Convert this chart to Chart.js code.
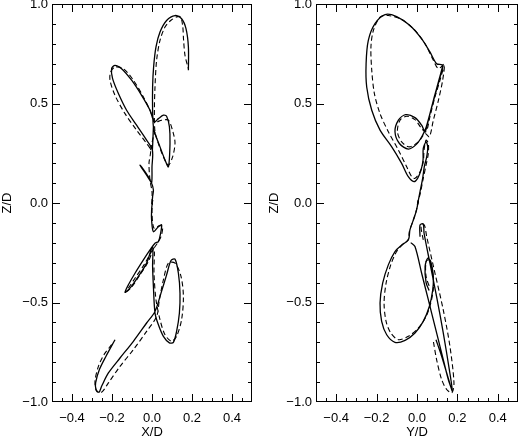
<!DOCTYPE html>
<html>
<head>
<meta charset="utf-8">
<script src="https://cdn.jsdelivr.net/npm/chart.js@4.4.1/dist/chart.umd.min.js"></script>
<style>
  body { margin: 0; background: #fff; }
  #wrap { position: relative; width: 520px; height: 440px; }
  canvas { position: absolute; top: 0; }
</style>
</head>
<body>
<div id="wrap">
  <canvas id="xzChart" width="260" height="440" style="left:0"></canvas>
  <canvas id="yzChart" width="260" height="440" style="left:260px"></canvas>
</div>
<script>
// tick labels
const hTicks = [-0.4, -0.2, 0.0, 0.2, 0.4];
const zTicks = [-1.0, -0.5, 0.0, 0.5, 1.0];

// X/D - Z/D panel, branch going up from the origin (null = pen lifted)
const xzSolidUpX = [0.00, 0.003, 0.007, -0.002, -0.027, -0.06, -0.052, -0.018, -0.002, 0.0, 0.002, -0.027, -0.077, -0.127, -0.168, -0.197, -0.202, -0.185, -0.152, -0.102, -0.052, -0.010, 0.012, 0.032, 0.057, 0.073, 0.087, 0.09, 0.082, 0.065, 0.04, 0.015, 0.007, 0.003, 0.003, 0.008, 0.02, 0.04, 0.073, 0.115, 0.148, 0.17, 0.182, 0.182, null, 0.002, 0.005, 0.007];
const xzSolidUpZ = [-0.005, 0.032, 0.065, 0.099, 0.14, 0.19, 0.182, 0.132, 0.102, 0.182, 0.266, 0.316, 0.391, 0.466, 0.55, 0.625, 0.675, 0.692, 0.675, 0.617, 0.541, 0.466, 0.408, 0.424, 0.441, 0.436, 0.383, 0.299, 0.182, 0.216, 0.282, 0.349, 0.383, 0.466, 0.583, 0.683, 0.784, 0.859, 0.917, 0.942, 0.926, 0.876, 0.784, 0.667, null, 0.266, 0.33, 0.383];
const xzDashUpX = [0, 0, -0.01, -0.015, -0.007, -0.027, -0.077, -0.135, -0.185, -0.21, -0.207, -0.185, -0.143, -0.093, -0.043, -0.01, 0.015, 0.048, 0.082, 0.107, 0.115, 0.103, 0.082, 0.057, 0.032, 0.015, 0.012, 0.015, 0.023, 0.04, 0.065, 0.098, 0.14, 0.153, 0.158, 0.165, 0.182, null, -0.007, 0.006, 0.015];
const xzDashUpZ = [-0.005, 0.057, 0.115, 0.199, 0.266, 0.299, 0.366, 0.449, 0.541, 0.617, 0.658, 0.683, 0.675, 0.617, 0.533, 0.466, 0.408, 0.416, 0.416, 0.349, 0.299, 0.232, 0.19, 0.232, 0.299, 0.358, 0.466, 0.583, 0.717, 0.817, 0.884, 0.921, 0.937, 0.893, 0.817, 0.742, 0.675, null, 0.266, 0.33, 0.358];
// branch going down
const xzSolidDownX = [0.003, -0.002, -0.002, 0.007, 0.032, 0.048, 0.043, 0.032, 0.015, -0.01, -0.043, -0.085, -0.118, -0.135, -0.11, -0.068, -0.027, 0.003, 0.003, 0.007, 0.015, 0.032, 0.057, 0.087, 0.107, 0.123, 0.137, 0.14, 0.132, 0.115, 0.095, 0.073, 0.045, 0.015, -0.027, -0.093, -0.16, -0.218, -0.252, -0.265, -0.28, -0.282, -0.263, -0.23, -0.185];
const xzSolidDownZ = [0.015, -0.035, -0.085, -0.144, -0.119, -0.11, -0.152, -0.194, -0.202, -0.236, -0.286, -0.353, -0.411, -0.449, -0.428, -0.369, -0.302, -0.219, -0.319, -0.419, -0.553, -0.612, -0.67, -0.703, -0.70, -0.645, -0.553, -0.453, -0.353, -0.282, -0.289, -0.361, -0.453, -0.545, -0.603, -0.695, -0.779, -0.854, -0.921, -0.951, -0.937, -0.904, -0.837, -0.77, -0.687];
const xzDashDownX = [0.003, 0, 0.01, 0.037, 0.053, 0.045, 0.027, -0.002, -0.04, -0.085, -0.118, -0.127, -0.102, -0.06, -0.018, 0.01, 0.01, 0.02, 0.04, 0.065, 0.098, 0.123, 0.148, 0.157, 0.145, 0.115, 0.082, 0.057, 0.037, 0.023, -0.027, -0.093, -0.16, -0.218, -0.252, -0.277, -0.285, -0.268, -0.24, -0.202];
const xzDashDownZ = [0.015, -0.052, -0.127, -0.115, -0.119, -0.169, -0.202, -0.244, -0.311, -0.378, -0.428, -0.444, -0.423, -0.361, -0.294, -0.227, -0.353, -0.486, -0.586, -0.662, -0.695, -0.67, -0.586, -0.47, -0.369, -0.302, -0.302, -0.386, -0.486, -0.57, -0.645, -0.737, -0.821, -0.904, -0.951, -0.946, -0.896, -0.821, -0.762, -0.712];

// Y/D - Z/D panel
const yzSolidUpY = [0.002, 0.015, 0.028, 0.036, 0.048, 0.053, 0.045, 0.031, 0.03, 0.02, 0.003, -0.015, -0.043, -0.076, -0.125, -0.183, -0.224, -0.249, -0.252, -0.241, -0.208, -0.158, -0.101, -0.035, 0.023, 0.064, 0.097, 0.127, 0.114, 0.089, 0.064, 0.043, 0.028, -0.002, -0.043, -0.087, -0.109, -0.092, -0.056, -0.01, 0.023, 0.04, 0.056, 0.081, 0.106, 0.127];
const yzSolidUpZ = [-0.01, 0.057, 0.124, 0.182, 0.232, 0.282, 0.307, 0.274, 0.216, 0.165, 0.124, 0.107, 0.132, 0.199, 0.282, 0.366, 0.466, 0.583, 0.70, 0.817, 0.901, 0.947, 0.937, 0.892, 0.825, 0.759, 0.70, 0.692, 0.633, 0.541, 0.449, 0.374, 0.341, 0.296, 0.271, 0.299, 0.358, 0.416, 0.444, 0.429, 0.391, 0.358, 0.416, 0.516, 0.608, 0.688];
const yzDashUpY = [0.002, 0.018, 0.031, 0.043, 0.056, 0.056, 0.045, 0.035, 0.031, 0.015, -0.01, -0.026, -0.051, -0.092, -0.142, -0.183, -0.211, -0.224, -0.228, -0.216, -0.183, -0.142, -0.084, -0.018, 0.04, 0.081, 0.106, 0.134, 0.127, 0.106, 0.081, 0.061, 0.04, 0.007, -0.038, -0.076, -0.097, -0.084, -0.051, -0.01, 0.023, 0.045, 0.064, 0.089, 0.114, 0.134];
const yzDashUpZ = [-0.01, 0.057, 0.124, 0.182, 0.249, 0.299, 0.316, 0.266, 0.207, 0.157, 0.124, 0.132, 0.182, 0.266, 0.358, 0.449, 0.55, 0.667, 0.784, 0.867, 0.934, 0.942, 0.926, 0.876, 0.80, 0.717, 0.675, 0.697, 0.617, 0.516, 0.416, 0.333, 0.349, 0.307, 0.282, 0.307, 0.358, 0.416, 0.436, 0.419, 0.374, 0.358, 0.433, 0.533, 0.617, 0.692];
const yzSolidDownY = [0.007, -0.002, -0.018, -0.035, -0.04, -0.051, -0.076, -0.109, -0.142, -0.17, -0.183, -0.175, -0.15, -0.109, -0.059, -0.01, 0.031, 0.061, 0.078, 0.081, 0.068, 0.053, 0.04, 0.045, 0.06, null, 0.015, 0.015, 0.031, 0.035, 0.064, 0.097, 0.13, 0.16, 0.175, 0.147, 0.122, 0.094, null, -0.031, -0.01, 0.023, 0.056, 0.089, 0.122, 0.155, 0.175];
const yzSolidDownZ = [0.015, -0.035, -0.085, -0.135, -0.177, -0.194, -0.211, -0.244, -0.311, -0.403, -0.503, -0.595, -0.662, -0.70, -0.69, -0.653, -0.595, -0.52, -0.436, -0.369, -0.294, -0.277, -0.319, -0.40, -0.44, null, -0.17, -0.11, -0.105, -0.152, -0.302, -0.47, -0.653, -0.837, -0.946, -0.854, -0.77, -0.687, null, -0.199, -0.219, -0.353, -0.486, -0.62, -0.754, -0.887, -0.946];
const yzDashDownY = [0.007, -0.005, -0.021, -0.038, -0.043, -0.068, -0.101, -0.13, -0.153, -0.163, -0.153, -0.13, -0.092, -0.043, 0.007, 0.045, 0.068, 0.081, 0.078, 0.061, 0.045, 0.045, 0.064, null, 0.031, 0.02, 0.036, 0.048, 0.089, 0.13, 0.163, 0.183, 0.173, 0.147, 0.122, 0.097, 0.081];
const yzDashDownZ = [0.015, -0.044, -0.094, -0.144, -0.185, -0.206, -0.244, -0.311, -0.403, -0.503, -0.595, -0.653, -0.687, -0.67, -0.628, -0.57, -0.503, -0.428, -0.353, -0.286, -0.294, -0.369, -0.428, null, -0.185, -0.115, -0.11, -0.169, -0.353, -0.537, -0.72, -0.904, -0.954, -0.937, -0.887, -0.787, -0.695];

const FONT = { family: "'Liberation Sans', Arial, sans-serif", size: 13 };

function fmt(v) {
  return Number(v).toFixed(1).replace('-', '\u2212');
}

function track(xs, zs, dashed) {
  return {
    data: xs.map((v, i) => ({ x: v, y: zs[i] })),
    showLine: true,
    borderColor: '#000',
    borderWidth: dashed ? 1.1 : 1.3,
    borderDash: dashed ? [5, 3] : [],
    pointRadius: 0,
    tension: 0.3,
    spanGaps: false,
    fill: false
  };
}

// frame with inward ticks on all four sides, IDL style
const frameTicks = {
  id: 'frameTicks',
  afterDraw(chart) {
    const { ctx, chartArea: a, scales: { x, y } } = chart;
    const L = Math.round(a.left), R = Math.round(a.right) - 1;
    const T = Math.round(a.top), B = Math.round(a.bottom) - 1;
    ctx.save();
    ctx.fillStyle = '#000';
    ctx.fillRect(L, T, R - L + 1, 1);
    ctx.fillRect(L, B, R - L + 1, 1);
    ctx.fillRect(L, T, 1, B - T + 1);
    ctx.fillRect(R, T, 1, B - T + 1);
    for (let k = -9; k <= 9; k++) {
      const len = k % 4 === 0 ? 8 : 4;
      const px = Math.round(x.getPixelForValue(k * 0.05));
      ctx.fillRect(px, B - len + 1, 1, len);
      ctx.fillRect(px, T, 1, len);
    }
    for (let k = -9; k <= 9; k++) {
      const len = k % 5 === 0 ? 8 : 4;
      const py = Math.round(y.getPixelForValue(k * 0.1));
      ctx.fillRect(L, py, len, 1);
      ctx.fillRect(R - len + 1, py, len, 1);
    }
    ctx.restore();
  }
};

function makePanel(id, xTitle, datasets, axisW, padL, padR) {
  new Chart(document.getElementById(id), {
    type: 'scatter',
    data: { datasets: datasets },
    options: {
      responsive: false,
      animation: false,
      devicePixelRatio: 1,
      layout: { padding: { left: padL, right: padR, top: 4, bottom: 0 } },
      plugins: { legend: { display: false }, tooltip: { enabled: false } },
      scales: {
        x: {
          type: 'linear', min: -0.5, max: 0.5,
          grid: { display: false, drawTicks: false },
          border: { display: false },
          afterBuildTicks: s => { s.ticks = hTicks.map(v => ({ value: v })); },
          afterFit: s => { s.height = 38; s.paddingLeft = 0; s.paddingRight = 0; },
          ticks: { color: '#000', font: FONT, padding: 9, maxRotation: 0, autoSkip: false, callback: fmt },
          title: { display: true, text: xTitle, color: '#000', font: FONT, padding: { top: 0, bottom: 0 } }
        },
        y: {
          type: 'linear', min: -1, max: 1,
          grid: { display: false, drawTicks: false },
          border: { display: false },
          afterBuildTicks: s => { s.ticks = zTicks.map(v => ({ value: v })); },
          afterFit: s => { s.width = axisW; s.paddingTop = 0; s.paddingBottom = 0; },
          ticks: { color: '#000', font: FONT, padding: 4, autoSkip: false, callback: fmt },
          title: { display: true, text: 'Z/D', color: '#000', font: FONT, padding: { top: 0, bottom: 0 } }
        }
      }
    },
    plugins: [frameTicks]
  });
}

makePanel('xzChart', 'X/D', [
  track(xzSolidUpX, xzSolidUpZ, false),
  track(xzSolidDownX, xzSolidDownZ, false),
  track(xzDashUpX, xzDashUpZ, true),
  track(xzDashDownX, xzDashDownZ, true)
], 52, 0, 8);

makePanel('yzChart', 'Y/D', [
  track(yzSolidUpY, yzSolidUpZ, false),
  track(yzSolidDownY, yzSolidDownZ, false),
  track(yzDashUpY, yzDashUpZ, true),
  track(yzDashDownY, yzDashDownZ, true)
], 49, 7, 2);
</script>
</body>
</html>
